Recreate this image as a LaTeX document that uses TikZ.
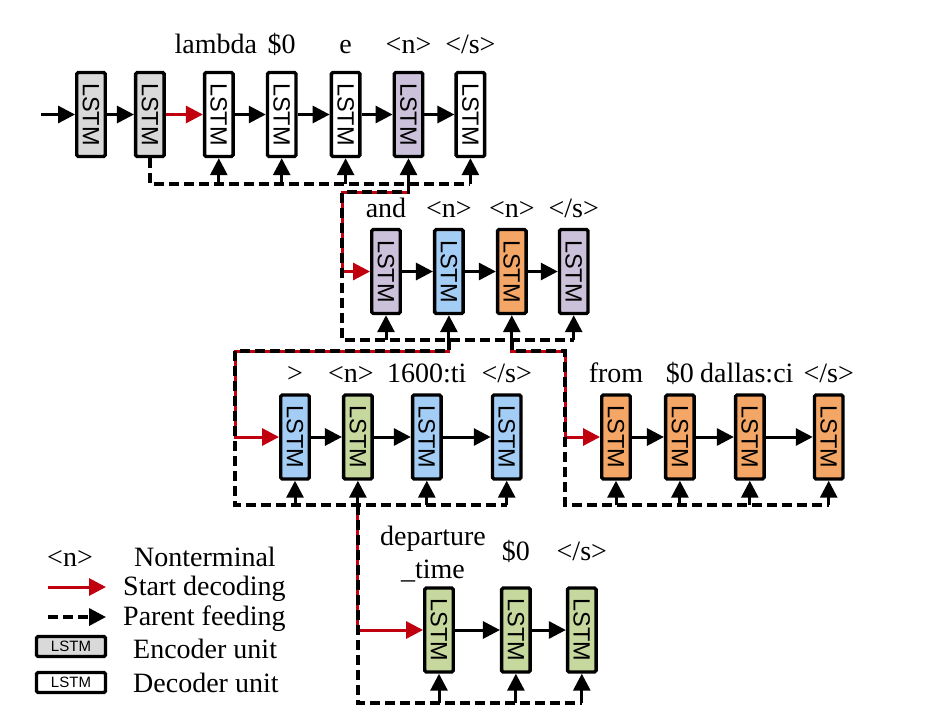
\documentclass[tikz,border=0pt]{standalone}
\usepackage{fontspec}
\setmainfont{Liberation Serif}
\newfontfamily\lstmfont{Liberation Sans}
\usetikzlibrary{arrows.meta, positioning}
\definecolor{encgray}{HTML}{D9D9D9}
\definecolor{ntpurple}{HTML}{CCC1DA}
\definecolor{ntblue}{HTML}{A3CDF4}
\definecolor{ntorange}{HTML}{F4A666}
\definecolor{ntgreen}{HTML}{C6D89E}
\definecolor{startred}{HTML}{C0000F}
\newcommand{\lstmlbl}{\rotatebox{-90}{LSTM}}

\begin{document}
\begin{tikzpicture}[x=1pt, y=-1pt,
  cell/.style={draw, line width=3.4pt, rounded corners=1.5pt, minimum width=28.5pt,
               minimum height=84pt, inner sep=0pt, font=\lstmfont\fontsize{23.5}{23.5}\selectfont},
  legbox/.style={draw, line width=3.4pt, rounded corners=1.5pt, minimum width=69pt,
                 minimum height=20pt, inner sep=0pt, font=\lstmfont\fontsize{15}{15}\selectfont},
  lbl/.style={anchor=base, inner sep=0pt, font=\fontsize{28}{32}\selectfont},
  flow/.style={line width=3pt, -{Triangle[length=17pt, width=17pt]}},
  startarr/.style={flow, startred},
  feed/.style={line width=3.5pt, dash pattern=on 10pt off 5pt}]
  \useasboundingbox (0,0) rectangle (928,721);

  \node[cell, fill=encgray]                   (a1) at (91,114.5) {\lstmlbl};
  \node[cell, fill=encgray, right=27pt of a1]  (a2) {\lstmlbl};
  \node[cell, fill=white, right=37pt of a2]    (a3) {\lstmlbl};
  \node[cell, fill=white, right=31pt of a3]    (a4) {\lstmlbl};
  \node[cell, fill=white, right=32pt of a4]    (a5) {\lstmlbl};
  \node[cell, fill=ntpurple, right=31pt of a5] (a6) {\lstmlbl};
  \node[cell, fill=white, right=30pt of a6]    (a7) {\lstmlbl};

  \node[cell, fill=ntpurple]                   (b1) at (386,271.5) {\lstmlbl};
  \node[cell, fill=ntblue, right=31pt of b1]   (b2) {\lstmlbl};
  \node[cell, fill=ntorange, right=31pt of b2] (b3) {\lstmlbl};
  \node[cell, fill=ntpurple, right=30pt of b3] (b4) {\lstmlbl};

  \node[cell, fill=ntblue]                     (c1) at (295,437) {\lstmlbl};
  \node[cell, fill=ntgreen, right=31pt of c1]  (c2) {\lstmlbl};
  \node[cell, fill=ntblue, right=37pt of c2]   (c3) {\lstmlbl};
  \node[cell, fill=ntblue, right=48pt of c3]   (c4) {\lstmlbl};

  \node[cell, fill=ntorange]                   (d1) at (616,437) {\lstmlbl};
  \node[cell, fill=ntorange, right=32pt of d1] (d2) {\lstmlbl};
  \node[cell, fill=ntorange, right=38pt of d2] (d3) {\lstmlbl};
  \node[cell, fill=ntorange, right=47pt of d3] (d4) {\lstmlbl};

  \node[cell, fill=ntgreen]                    (e1) at (439,630) {\lstmlbl};
  \node[cell, fill=ntgreen, right=45pt of e1]  (e2) {\lstmlbl};
  \node[cell, fill=ntgreen, right=34pt of e2]  (e3) {\lstmlbl};

  \coordinate (ta) at (0,53);
  \coordinate (tb) at (0,217);
  \coordinate (tc) at (0,382);
  \coordinate (te) at (0,560);
  \node[lbl] (la3) at ([xshift=-3pt]a3 |- ta) {lambda};
  \node[lbl] (la4) at (a4 |- ta) {\$0};
  \node[lbl] (la5) at (a5 |- ta) {e};
  \node[lbl] (la6) at (a6 |- ta) {<n>};
  \node[lbl] (la7) at (a7 |- ta) {</s>};
  \node[lbl] (lb1) at (b1 |- tb) {and};
  \node[lbl] (lb2) at (b2 |- tb) {<n>};
  \node[lbl] (lb3) at (b3 |- tb) {<n>};
  \node[lbl] (lb4) at (b4 |- tb) {</s>};
  \node[lbl] (lc1) at (c1 |- tc) {>};
  \node[lbl] (lc2) at ([xshift=-7pt]c2 |- tc) {<n>};
  \node[lbl] (lc3) at (c3 |- tc) {1600:ti};
  \node[lbl] (lc4) at (c4 |- tc) {</s>};
  \node[lbl] (ld1) at (d1 |- tc) {from};
  \node[lbl] (ld2) at (d2 |- tc) {\$0};
  \node[lbl] (ld3) at ([xshift=-3pt]d3 |- tc) {dallas:ci};
  \node[lbl] (ld4) at (d4 |- tc) {</s>};
  \node[lbl] (le1) at ([xshift=-6pt, yshift=15pt]e1 |- te) {departure};
  \node[lbl] (le1b) at ([yshift=-33pt]le1.base) {\_time};
  \node[lbl] (le2) at (e2 |- te) {\$0};
  \node[lbl] (le3) at (e3 |- te) {</s>};

  \coordinate (in) at ([xshift=-34pt]a1.west);
  \draw[flow] (in) -- (a1);
  \draw[flow] (a1) -- (a2);
  \draw[startarr] (a2) -- (a3);
  \foreach \p/\q in {a3/a4, a4/a5, a5/a6, a6/a7, b1/b2, b2/b3, b3/b4,
                     c1/c2, c2/c3, c3/c4, d1/d2, d2/d3, d3/d4, e1/e2, e2/e3}
    \draw[flow] (\p) -- (\q);

  \coordinate (fa) at (0,184);
  \coordinate (fb) at (0,340);
  \coordinate (fc) at (0,505);
  \coordinate (fe) at (0,703);
  \coordinate (jb) at (342,192);
  \coordinate (jc) at (235,351);
  \coordinate (jd) at (565,351);

  \draw[startarr] (a6 |- fa) |- (jb) |- (b1);
  \draw[startarr] (b2 |- fb) |- (jc) |- (c1);
  \draw[startarr] (b3 |- fb) |- (jd) |- (d1);
  \draw[startarr] (c2 |- fc) |- (e1);

  \draw[feed] (a2.south) |- (a7 |- fa);
  \draw[feed] (a6 |- fa) |- (jb) |- (b4 |- fb);
  \draw[feed] (b2 |- fb) |- (jc) |- (c4 |- fc);
  \draw[feed] (b3 |- fb) |- (jd) |- (d4 |- fc);
  \draw[feed] (c2 |- fc) |- (e3 |- fe);

  \foreach \n in {a3, a4, a5, a6, a7}
    \draw[flow] (\n |- fa) -- (\n.south);
  \foreach \n in {b1, b2, b3, b4}
    \draw[flow] (\n |- fb) -- (\n.south);
  \foreach \n in {c1, c2, c3, c4, d1, d2, d3, d4}
    \draw[flow] (\n |- fc) -- (\n.south);
  \foreach \n in {e1, e2, e3}
    \draw[flow] (\n |- fe) -- (\n.south);

  \node[lbl] (ntsym) at (70,566) {<n>};
  \node[lbl] (nttxt) at (205,566) {Nonterminal};
  \coordinate (sd0) at (48,587);
  \coordinate (sd1) at (106,587);
  \draw[startarr] (sd0) -- (sd1);
  \node[lbl, anchor=base west] (sdtxt) at (123,595) {Start decoding};
  \coordinate (pf0) at (48,617);
  \coordinate (pf1) at (106,617);
  \draw[feed, -{Triangle[length=17pt, width=17pt]}] (pf0) -- (pf1);
  \node[lbl, anchor=base west] (pftxt) at (123,625) {Parent feeding};
  \node[legbox, fill=encgray] (encbox) at (71,646.5) {LSTM};
  \node[lbl, anchor=base west] (enctxt) at (133,658) {Encoder unit};
  \node[legbox, fill=white] (decbox) at (71,682.5) {LSTM};
  \node[lbl, anchor=base west] (dectxt) at (133,692) {Decoder unit};
\end{tikzpicture}
\end{document}
